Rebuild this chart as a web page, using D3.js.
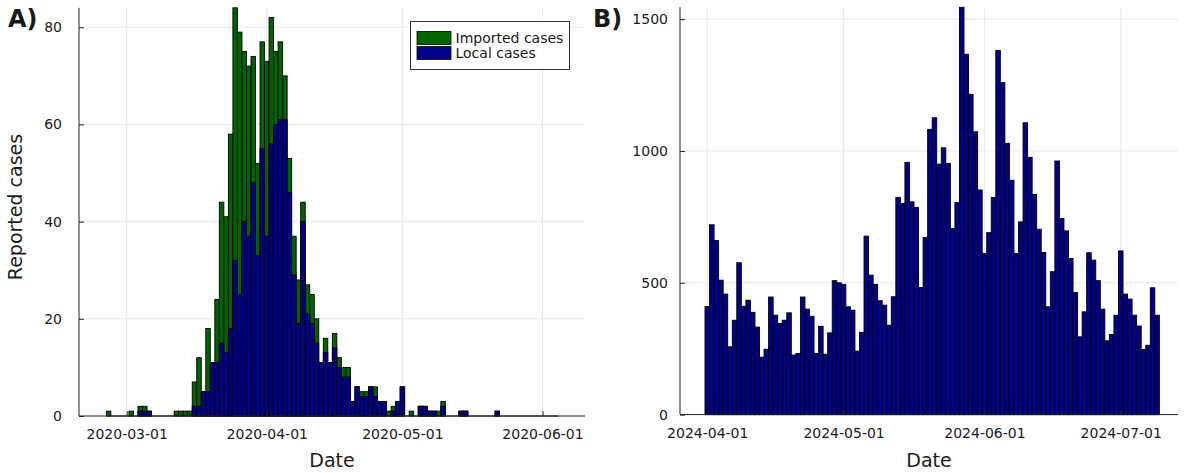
<!DOCTYPE html>
<html>
<head>
<meta charset="utf-8">
<script src="https://cdn.jsdelivr.net/npm/d3@7"></script>
<style>
  body { margin: 0; background: #fff; }
  svg { display: block; }
  text { font-family: "DejaVu Sans", sans-serif; fill: #1a1a1a; }
</style>
</head>
<body>
<svg id="chart" width="1188" height="473"></svg>
<script>
// ---- Panel A: daily reported cases from 2020-02-26 (imported vs local) ----
const startA = new Date(Date.UTC(2020, 1, 26));
const importedA = [
  1,0,0,0,0,  1,0,1,1,0,  0,0,0,0,0,  1,1,1,1,5,
  10,0,13,0,13,  29,28,40,52,54,  35,35,26,19,22,  36,26,15,16,9,
  7,8,9,4,6,  6,5,0,3,0,  3,2,2,2,0,  0,1,1,0,2,
  0,0,1,1,0,  0,0,1,0,0,  0,0,0,1,1,  0,0,0,0,0,
  0,0,0,0,0,  0,0,0,0,0,  0,0,0,0,0,  0,0,0,0,0
];
const localA = [
  0,0,0,0,0,  0,0,1,1,1,  0,0,0,0,0,  0,0,0,0,2,
  2,5,5,11,11,  15,13,18,32,25,  40,37,48,33,55,  37,56,60,61,61,
  46,29,19,40,21,  19,15,11,13,11,  14,10,8,8,3,  6,4,4,6,4,
  3,3,0,1,3,  6,0,0,0,2,  2,1,1,0,2,  0,0,0,1,1,
  0,0,0,0,0,  0,1,0,0,0,  0,0,0,0,0,  0,0,0,0,0
];
const ticksA = ["2020-03-01", "2020-04-01", "2020-05-01", "2020-06-01"];
const yTicksA = [0, 20, 40, 60, 80];

// ---- Panel B: daily reported cases from 2024-04-01 ----
const startB = new Date(Date.UTC(2024, 3, 1));
const casesB = [
  410,720,660,510,457,257,358,576,411,434,
  388,332,218,248,446,377,346,358,386,226,
  232,446,400,373,232,335,229,310,508,500,
  494,409,396,241,312,677,529,494,432,415,
  339,447,824,801,957,807,786,482,672,1082,
  1126,950,1012,953,706,805,1545,1367,1215,1073,
  852,611,690,824,1381,1259,1029,889,611,731,
  1107,976,835,703,615,409,542,962,744,697,
  592,463,295,390,614,586,508,400,280,304,
  377,621,457,438,377,336,247,263,481,377
];
const ticksB = ["2024-04-01", "2024-05-01", "2024-06-01", "2024-07-01"];
const yTicksB = [0, 500, 1000, 1500];

const COLOR_IMPORTED = "#006400";
const COLOR_LOCAL = "#00008b";
const DAY = 864e5;
const parse = d3.utcParse("%Y-%m-%d");
const fmt = d3.utcFormat("%Y-%m-%d");
const svg = d3.select("#chart");

function drawPanel(cfg) {
  const g = svg.append("g");
  const n = cfg.series[0].values.length;
  const dates = d3.utcDay.range(cfg.start, d3.utcDay.offset(cfg.start, n));

  const x = d3.scaleUtc()
    .domain([new Date(+dates[0] - cfg.padL * DAY), new Date(+dates[n - 1] + cfg.padR * DAY)])
    .range([cfg.left, cfg.right]);
  const y = d3.scaleLinear().domain([0, cfg.yMax]).range([cfg.bottom, cfg.top]);
  const xt = cfg.xTicks.map(parse);

  // grid
  const grid = g.append("g").attr("stroke", "#e9e9e9").attr("stroke-width", 1);
  grid.selectAll(".gx").data(xt).join("line")
    .attr("x1", d => x(d)).attr("x2", d => x(d))
    .attr("y1", cfg.top).attr("y2", cfg.bottom);
  grid.selectAll(".gy").data(cfg.yTicks.filter(v => v > 0)).join("line")
    .attr("x1", cfg.left).attr("x2", cfg.right)
    .attr("y1", d => y(d)).attr("y2", d => y(d));

  // bars: each series is drawn on top of the previous one
  const bw = x(d3.utcDay.offset(dates[0], 1)) - x(dates[0]);
  cfg.series.forEach(s => {
    const rows = dates.map((d, i) => ({ d, v: s.values[i] })).filter(r => r.v > 0);
    g.append("g").selectAll("rect").data(rows).join("rect")
      .attr("x", r => x(r.d) - bw / 2)
      .attr("width", bw)
      .attr("y", r => y(r.v))
      .attr("height", r => y(0) - y(r.v))
      .attr("fill", s.color)
      .attr("stroke", "#000")
      .attr("stroke-width", 0.9);
  });

  // baseline under the whole run of days
  g.append("line")
    .attr("x1", x(dates[0]) - bw / 2).attr("x2", x(dates[n - 1]) + bw / 2)
    .attr("y1", y(0)).attr("y2", y(0))
    .attr("stroke", "#000").attr("stroke-width", 1);

  // axes
  const xAxis = d3.axisBottom(x).tickValues(xt).tickFormat(fmt)
    .tickSizeInner(-5).tickSizeOuter(0).tickPadding(13);
  const gx = g.append("g").attr("transform", `translate(0,${cfg.bottom})`).call(xAxis);
  gx.select(".domain").attr("stroke", "#222").attr("d", `M${cfg.left},0H${cfg.right}`);
  gx.selectAll(".tick line").attr("stroke", "#222");
  gx.selectAll("text").attr("font-size", 14).attr("font-family", "DejaVu Sans").attr("fill", "#1a1a1a");

  const yAxis = d3.axisLeft(y).tickValues(cfg.yTicks).tickFormat(d3.format("d"))
    .tickSizeInner(-5).tickSizeOuter(0).tickPadding(cfg.yPad);
  const gy = g.append("g").attr("transform", `translate(${cfg.left},0)`).call(yAxis);
  gy.select(".domain").attr("stroke", "#222").attr("d", `M0,${cfg.top}V${cfg.bottom}`);
  gy.selectAll(".tick line").attr("stroke", "#222");
  gy.selectAll("text").attr("font-size", 14).attr("font-family", "DejaVu Sans").attr("fill", "#1a1a1a");

  // labels
  g.append("text")
    .attr("x", (cfg.left + cfg.right) / 2).attr("y", 467)
    .attr("text-anchor", "middle").attr("font-size", 19)
    .text("Date");
  if (cfg.yLabel) {
    g.append("text")
      .attr("transform", `translate(22,${cfg.yLabelY}) rotate(-90)`)
      .attr("text-anchor", "middle").attr("font-size", 19)
      .text(cfg.yLabel);
  }
  g.append("text")
    .attr("x", cfg.tagX).attr("y", 27)
    .attr("font-size", 24).attr("font-weight", "bold")
    .text(cfg.tag);

  return { x, y };
}

drawPanel({
  start: startA,
  series: [
    { values: importedA.map((v, i) => v + localA[i]), color: COLOR_IMPORTED },
    { values: localA, color: COLOR_LOCAL }
  ],
  left: 79, right: 585, top: 7.8, bottom: 416,
  padL: 6.55, padR: 6.4,
  yMax: 84, yTicks: yTicksA, xTicks: ticksA, yPad: 17,
  yLabel: "Reported cases", yLabelY: 207,
  tag: "A)", tagX: 8
});

drawPanel({
  start: startB,
  series: [{ values: casesB, color: COLOR_LOCAL }],
  left: 680, right: 1178, top: 7.3, bottom: 414.6,
  padL: 6.0, padR: 4.6,
  yMax: 1545, yTicks: yTicksB, xTicks: ticksB, yPad: 12,
  tag: "B)", tagX: 593
});

// legend for panel A
const legend = svg.append("g").attr("transform", "translate(410.5,21.5)");
legend.append("rect").attr("width", 159).attr("height", 48)
  .attr("fill", "#fff").attr("stroke", "#333").attr("stroke-width", 1);
const legendItems = [
  { label: "Imported cases", color: COLOR_IMPORTED },
  { label: "Local cases", color: COLOR_LOCAL }
];
legendItems.forEach((it, i) => {
  legend.append("rect")
    .attr("x", 6.5).attr("y", 10 + i * 15).attr("width", 34).attr("height", 13)
    .attr("fill", it.color).attr("stroke", "#000").attr("stroke-width", 0.8);
  legend.append("text")
    .attr("x", 45).attr("y", 21 + i * 15.5)
    .attr("font-size", 14)
    .text(it.label);
});
</script>
</body>
</html>
